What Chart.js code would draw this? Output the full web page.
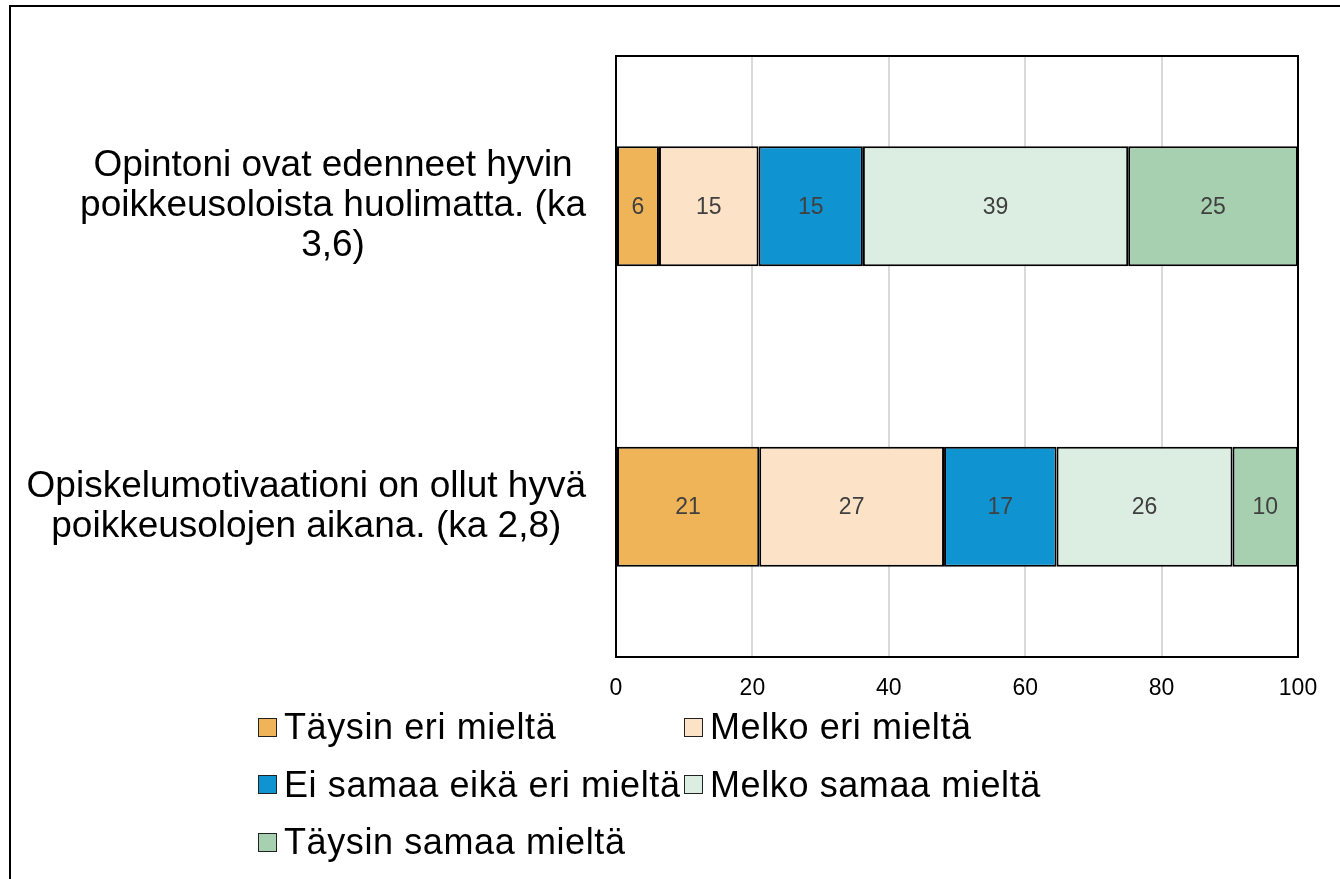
<!DOCTYPE html>
<html>
<head>
<meta charset="utf-8">
<script src="https://cdn.jsdelivr.net/npm/chart.js@4"></script>
<style>
  html, body { margin: 0; padding: 0; background: #fff; overflow: hidden; }
  #wrap { position: relative; width: 1340px; height: 879px; }
  #frame { position: absolute; left: 9px; top: 5px; width: 1400px; height: 1000px; border: 2px solid #000; box-sizing: border-box; }
  canvas { position: absolute; left: 0; top: 0; }
  #legend { position: absolute; left: 258px; top: 707px; display: grid; grid-template-columns: 426px auto; row-gap: 17.5px;
            font: 36px "Liberation Sans", Arial, sans-serif; letter-spacing: 0.6px; color: #000; }
  #legend .item { display: flex; align-items: center; height: 40px; white-space: nowrap; }
  #legend .box { width: 17px; height: 17px; border: 1.5px solid #222; margin-right: 7px; flex: none; }
</style>
</head>
<body>
<div id="wrap">
  <div id="frame"></div>
  <canvas id="chart" width="1340" height="879"></canvas>
  <div id="legend"></div>
</div>
<script>
    // Data
    const categories = [
        ['Opintoni ovat edenneet hyvin', 'poikkeusoloista huolimatta. (ka', '3,6)'],
        ['Opiskelumotivaationi on ollut hyvä', 'poikkeusolojen aikana. (ka 2,8)']
    ];
    const seriesNames = ['Täysin eri mieltä', 'Melko eri mieltä', 'Ei samaa eikä eri mieltä', 'Melko samaa mieltä', 'Täysin samaa mieltä'];
    const taysinEri = [6.3, 21.0];
    const melkoEri = [14.6, 27.1];
    const eiSamaaEikaEri = [15.3, 16.5];
    const melkoSamaa = [38.9, 25.8];
    const taysinSamaa = [24.9, 9.6];
    const xTicks = [0, 20, 40, 60, 80, 100];

    const colors = ['#EEB457', '#FCE2C6', '#1093D1', '#DCEEE2', '#A7D0B1'];
    const seriesData = [taysinEri, melkoEri, eiSamaaEikaEri, melkoSamaa, taysinSamaa];

    // Category labels: lines centered within each block, blocks right-aligned
    const yLabelPlugin = {
        id: 'yLabels',
        afterDraw(chart) {
            const ctx = chart.ctx;
            const y = chart.scales.y;
            ctx.save();
            ctx.font = '37px "Liberation Sans", Arial, sans-serif';
            ctx.fillStyle = '#000';
            ctx.textAlign = 'center';
            ctx.textBaseline = 'middle';
            const right = 586, lh = 40;
            categories.forEach((lines, i) => {
                const w = Math.max(...lines.map(l => ctx.measureText(l).width));
                const cx = right - w / 2;
                const cy = y.getPixelForValue(i);
                lines.forEach((l, j) => {
                    ctx.fillText(l, cx, cy + (j - (lines.length - 1) / 2) * lh);
                });
            });
            ctx.restore();
        }
    };

    // Value labels inside the segments + plot frame
    const valueLabelPlugin = {
        id: 'valueLabels',
        afterDatasetsDraw(chart) {
            const ctx = chart.ctx;
            ctx.save();
            ctx.font = '23px "Liberation Sans", Arial, sans-serif';
            ctx.fillStyle = '#404040';
            ctx.textAlign = 'center';
            ctx.textBaseline = 'middle';
            chart.data.datasets.forEach((ds, di) => {
                chart.getDatasetMeta(di).data.forEach((bar, i) => {
                    const p = bar.getProps(['x', 'base', 'y'], true);
                    ctx.fillText(Math.round(ds.data[i]), (p.x + p.base) / 2, p.y + 1);
                });
            });
            const a = chart.chartArea;
            ctx.strokeStyle = '#000';
            ctx.lineWidth = 2;
            ctx.strokeRect(a.left, a.top, a.right - a.left, a.bottom - a.top);
            ctx.restore();
        }
    };

    new Chart(document.getElementById('chart'), {
        type: 'bar',
        data: {
            labels: categories,
            datasets: seriesNames.map((name, i) => ({
                label: name,
                data: seriesData[i],
                backgroundColor: colors[i],
                borderColor: '#000',
                borderWidth: 2,
                borderSkipped: false,
                barPercentage: 0.4,
                categoryPercentage: 1
            }))
        },
        options: {
            indexAxis: 'y',
            responsive: false,
            animation: false,
            layout: { padding: { left: 616, right: 42, top: 56, bottom: 177 } },
            plugins: {
                legend: { display: false },
                tooltip: { enabled: false }
            },
            scales: {
                x: {
                    stacked: true,
                    min: 0,
                    max: 100,
                    afterBuildTicks: s => { s.ticks = xTicks.map(v => ({ value: v })); },
                    afterFit: s => { s.height = 45; },
                    ticks: {
                        color: '#000',
                        font: { family: '"Liberation Sans", Arial, sans-serif', size: 23 },
                        padding: 18,
                        maxRotation: 0
                    },
                    grid: { color: '#d9d9d9', lineWidth: 2, drawTicks: false },
                    border: { display: true, color: '#000', width: 2 }
                },
                y: {
                    stacked: true,
                    afterFit: s => { s.width = 0; },
                    ticks: { display: false },
                    grid: { display: false, drawTicks: false },
                    border: { display: true, color: '#000', width: 2 }
                }
            }
        },
        plugins: [yLabelPlugin, valueLabelPlugin]
    });

    // HTML legend
    const legend = document.getElementById('legend');
    seriesNames.forEach((name, i) => {
        const item = document.createElement('div');
        item.className = 'item';
        item.innerHTML = '<span class="box" style="background:' + colors[i] + '"></span><span></span>';
        item.lastChild.textContent = name;
        legend.appendChild(item);
    });
</script>
</body>
</html>
